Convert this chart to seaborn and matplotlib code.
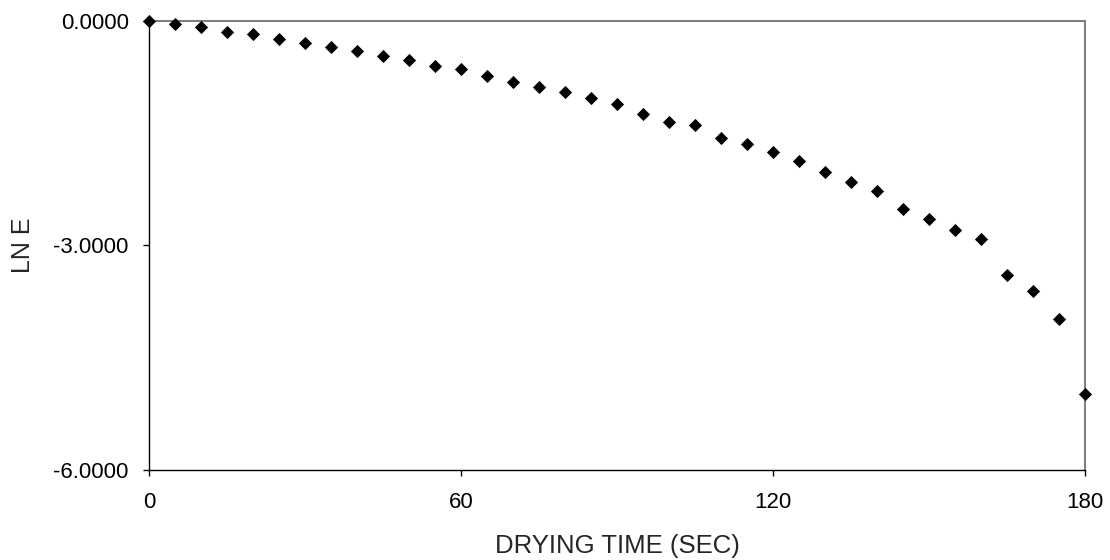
import matplotlib
matplotlib.use("Agg")
import matplotlib.pyplot as plt
import seaborn as sns
import pandas as pd
from matplotlib.ticker import FuncFormatter

time_sec = [0, 5, 10, 15, 20, 25, 30, 35, 40, 45, 50, 55, 60, 65, 70, 75, 80, 85,
            90, 95, 100, 105, 110, 115, 120, 125, 130, 135, 140, 145, 150, 155, 160,
            165, 170, 175, 180]
ln_e = [0.0, -0.044, -0.088, -0.147, -0.182, -0.244, -0.293, -0.355, -0.404, -0.467,
        -0.52, -0.6, -0.648, -0.737, -0.813, -0.888, -0.951, -1.031, -1.107, -1.252,
        -1.355, -1.395, -1.568, -1.648, -1.751, -1.867, -2.021, -2.156, -2.275, -2.515,
        -2.648, -2.8, -2.92, -3.395, -3.608, -3.987, -4.991]
x_ticks = [0, 60, 120, 180]
y_ticks = [0.0, -3.0, -6.0]

df = pd.DataFrame({"t": time_sec, "lne": ln_e})

sns.set_style("white")
plt.rcParams["font.family"] = ["Liberation Sans", "DejaVu Sans"]

fig = plt.figure(figsize=(11.1, 5.6), dpi=100)
ax = fig.add_axes([0.1342, 0.1607, 0.8432, 0.8023])

sns.scatterplot(data=df, x="t", y="lne", marker="D", s=45, color="black",
                edgecolor="black", linewidth=0, ax=ax, legend=False, clip_on=False,
                zorder=5)

ax.set_xlim(0, 180)
ax.set_ylim(-6, 0)
ax.set_xticks(x_ticks)
ax.set_yticks(y_ticks)
ax.yaxis.set_major_formatter(FuncFormatter(lambda v, p: f"{v:.4f}"))
ax.tick_params(axis="both", which="major", direction="out", length=4.5, width=1,
               color="black", labelsize=16, colors="black",
               bottom=True, left=True, top=False, right=False)
ax.tick_params(axis="x", pad=11)
ax.tick_params(axis="y", pad=10)
ax.set_xlabel("DRYING TIME (SEC)", fontsize=18.5)
ax.set_ylabel("LN E", fontsize=18)
ax.xaxis.set_label_coords(0.5, -0.142)
ax.yaxis.set_label_coords(-0.1346, 0.5)
ax.yaxis.label.set_va("center")
ax.xaxis.label.set_va("top")

for side in ["left", "bottom"]:
    ax.spines[side].set_color("black")
    ax.spines[side].set_linewidth(1)
for side in ["top", "right"]:
    ax.spines[side].set_color("#808080")
    ax.spines[side].set_linewidth(1.5)
    ax.spines[side].set_visible(True)

fig.savefig("out.png", dpi=100, facecolor="white")
